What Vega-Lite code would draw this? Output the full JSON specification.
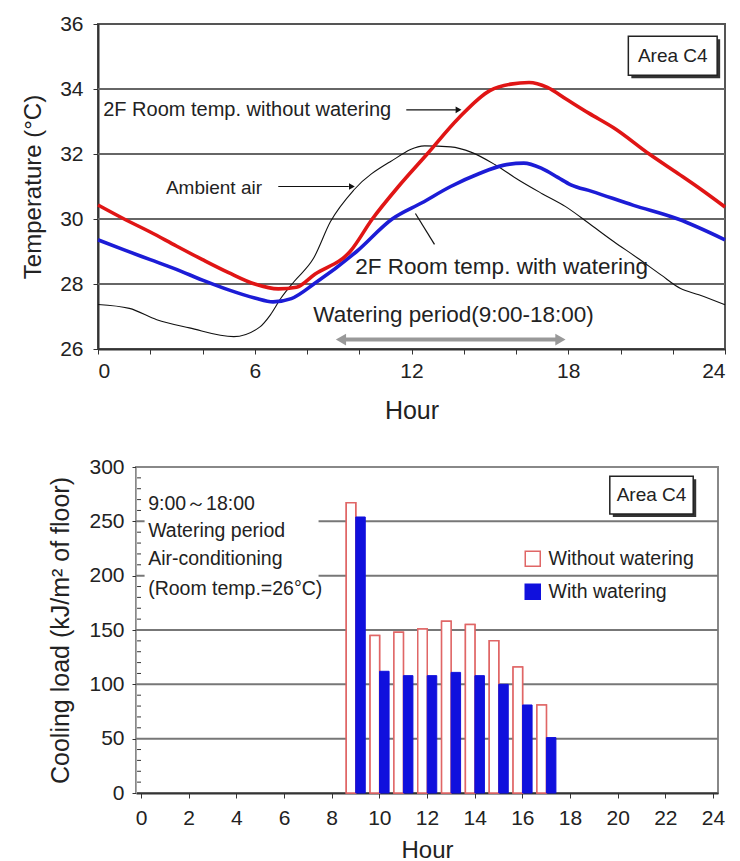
{
 "$schema": "https://vega.github.io/schema/vega-lite/v6.json",
 "background": "white",
 "padding": {"left": 19, "top": 12, "right": 0, "bottom": 0},
 "config": {
  "font": "Liberation Sans",
  "view": {"stroke": null},
  "axis": {"labelFont": "Liberation Sans", "titleFont": "Liberation Sans", "titleFontWeight": "normal", "labelColor": "#222", "titleColor": "#222", "domainColor": "#333", "tickColor": "#333", "gridColor": "#666", "labelFontSize": 21, "titleFontSize": 24, "labelOverlap": false},
  "text": {"font": "Liberation Sans", "color": "#222"}
 },
 "resolve": {"scale": {"fill": "independent", "stroke": "independent"}, "legend": {"fill": "independent", "stroke": "independent"}},
 "spacing": 31,
 "vconcat": [
  {"spacing": 0, "hconcat": [
   {"width": 1, "height": 1, "data": {"values": []}, "mark": "point"},
   {
    "width": 627, "height": 325,
    "view": {"stroke": "#555", "strokeWidth": 2},
    "data": {"values": [
       {"line": "Ambient air", "hour": 0, "temp": 27.37},
       {"line": "Ambient air", "hour": 1.2, "temp": 27.25},
       {"line": "Ambient air", "hour": 2.25, "temp": 26.9},
       {"line": "Ambient air", "hour": 3.5, "temp": 26.65},
       {"line": "Ambient air", "hour": 5.2, "temp": 26.38},
       {"line": "Ambient air", "hour": 6.2, "temp": 26.68},
       {"line": "Ambient air", "hour": 6.6, "temp": 27.05},
       {"line": "Ambient air", "hour": 7.0, "temp": 27.56},
       {"line": "Ambient air", "hour": 7.5, "temp": 28.07},
       {"line": "Ambient air", "hour": 8.25, "temp": 28.79},
       {"line": "Ambient air", "hour": 8.9, "temp": 29.92},
       {"line": "Ambient air", "hour": 9.8, "temp": 30.9},
       {"line": "Ambient air", "hour": 11.2, "temp": 31.77},
       {"line": "Ambient air", "hour": 12.5, "temp": 32.25},
       {"line": "Ambient air", "hour": 13.5, "temp": 32.22},
       {"line": "Ambient air", "hour": 14.3, "temp": 32.05},
       {"line": "Ambient air", "hour": 15.2, "temp": 31.67},
       {"line": "Ambient air", "hour": 16.1, "temp": 31.2},
       {"line": "Ambient air", "hour": 17.0, "temp": 30.78},
       {"line": "Ambient air", "hour": 17.9, "temp": 30.38},
       {"line": "Ambient air", "hour": 18.8, "temp": 29.86},
       {"line": "Ambient air", "hour": 19.75, "temp": 29.3},
       {"line": "Ambient air", "hour": 20.65, "temp": 28.8},
       {"line": "Ambient air", "hour": 21.55, "temp": 28.28},
       {"line": "Ambient air", "hour": 22.3, "temp": 27.86},
       {"line": "Ambient air", "hour": 23.0, "temp": 27.67},
       {"line": "Ambient air", "hour": 24, "temp": 27.36},
       {"line": "With watering", "hour": 0, "temp": 29.36},
       {"line": "With watering", "hour": 1, "temp": 29.05},
       {"line": "With watering", "hour": 2, "temp": 28.75},
       {"line": "With watering", "hour": 3, "temp": 28.45},
       {"line": "With watering", "hour": 4, "temp": 28.12},
       {"line": "With watering", "hour": 5, "temp": 27.82},
       {"line": "With watering", "hour": 6, "temp": 27.57},
       {"line": "With watering", "hour": 6.7, "temp": 27.45},
       {"line": "With watering", "hour": 7.4, "temp": 27.55},
       {"line": "With watering", "hour": 8.3, "temp": 28.02},
       {"line": "With watering", "hour": 9.9, "temp": 29.0},
       {"line": "With watering", "hour": 11.26, "temp": 30.0},
       {"line": "With watering", "hour": 12.4, "temp": 30.5},
       {"line": "With watering", "hour": 13.5, "temp": 31.0},
       {"line": "With watering", "hour": 14.6, "temp": 31.4},
       {"line": "With watering", "hour": 15.5, "temp": 31.65},
       {"line": "With watering", "hour": 16.3, "temp": 31.72},
       {"line": "With watering", "hour": 17.0, "temp": 31.55},
       {"line": "With watering", "hour": 17.6, "temp": 31.28},
       {"line": "With watering", "hour": 18.1, "temp": 31.05},
       {"line": "With watering", "hour": 18.9, "temp": 30.85},
       {"line": "With watering", "hour": 20.5, "temp": 30.42},
       {"line": "With watering", "hour": 22.2, "temp": 30.0},
       {"line": "With watering", "hour": 24, "temp": 29.36},
       {"line": "Without watering", "hour": 0, "temp": 30.43},
       {"line": "Without watering", "hour": 1, "temp": 30.0},
       {"line": "Without watering", "hour": 2, "temp": 29.6},
       {"line": "Without watering", "hour": 3, "temp": 29.17},
       {"line": "Without watering", "hour": 4, "temp": 28.75},
       {"line": "Without watering", "hour": 5, "temp": 28.35},
       {"line": "Without watering", "hour": 6, "temp": 28.0},
       {"line": "Without watering", "hour": 6.9, "temp": 27.85},
       {"line": "Without watering", "hour": 7.6, "temp": 27.9},
       {"line": "Without watering", "hour": 8.3, "temp": 28.3},
       {"line": "Without watering", "hour": 9.65, "temp": 29.0},
       {"line": "Without watering", "hour": 10.5, "temp": 30.0},
       {"line": "Without watering", "hour": 11.5, "temp": 31.0},
       {"line": "Without watering", "hour": 12.6, "temp": 32.0},
       {"line": "Without watering", "hour": 13.8, "temp": 33.1},
       {"line": "Without watering", "hour": 15.0, "temp": 33.95},
       {"line": "Without watering", "hour": 15.8, "temp": 34.15},
       {"line": "Without watering", "hour": 16.5, "temp": 34.2},
       {"line": "Without watering", "hour": 17.2, "temp": 34.05},
       {"line": "Without watering", "hour": 17.9, "temp": 33.7},
       {"line": "Without watering", "hour": 18.8, "temp": 33.25},
       {"line": "Without watering", "hour": 19.75, "temp": 32.8},
       {"line": "Without watering", "hour": 21.1, "temp": 32.0},
       {"line": "Without watering", "hour": 22.2, "temp": 31.4},
       {"line": "Without watering", "hour": 23.1, "temp": 30.9},
       {"line": "Without watering", "hour": 24, "temp": 30.37}
    ]},
    "layer": [
     {
      "data": {"values": [{"grid": 28}, {"grid": 30}, {"grid": 32}, {"grid": 34}]},
      "mark": {"type": "rule", "color": "#666", "strokeWidth": 2},
      "encoding": {"y": {"field": "grid", "type": "quantitative"}}
     },
     {
      "transform": [{"filter": "datum.line === 'Ambient air'"}],
      "mark": {"type": "line", "interpolate": "monotone", "color": "#111111", "strokeWidth": 1.1},
      "encoding": {
       "x": {"field": "hour", "type": "quantitative", "scale": {"domain": [0, 24], "nice": false},
        "axis": {"title": "Hour", "values": [0,1,2,3,4,5,6,7,8,9,10,11,12,13,14,15,16,17,18,19,20,21,22,23,24], "labelExpr": "datum.value % 6 === 0 ? datum.label : ''", "labelOverlap": false, "grid": false, "tickSize": 5, "labelPadding": 6, "titlePadding": 17, "domainWidth": 2, "titleFontSize": 25}},
       "y": {"field": "temp", "type": "quantitative", "scale": {"domain": [26, 36], "nice": false, "zero": false},
        "axis": {"title": "Temperature (°C)", "values": [26,27,28,29,30,31,32,33,34,35,36], "labelExpr": "datum.value % 2 === 0 ? datum.label : ''", "labelOverlap": false, "grid": false, "tickSize": 5, "labelPadding": 10, "titlePadding": 14, "domainWidth": 2}}
      }
     },
     {
      "transform": [{"filter": "datum.line === 'With watering'"}],
      "mark": {"type": "line", "interpolate": "monotone", "color": "#1c1cd6", "strokeWidth": 3.6},
      "encoding": {"x": {"field": "hour", "type": "quantitative"}, "y": {"field": "temp", "type": "quantitative"}}
     },
     {
      "transform": [{"filter": "datum.line === 'Without watering'"}],
      "mark": {"type": "line", "interpolate": "monotone", "color": "#e01515", "strokeWidth": 3.6},
      "encoding": {"x": {"field": "hour", "type": "quantitative"}, "y": {"field": "temp", "type": "quantitative"}}
     },
     {"data": {"values": [{}]}, "mark": {"type": "text", "text": "2F  Room temp. without watering", "align": "left", "baseline": "middle", "fontSize": 20}, "encoding": {"x": {"datum": 0.2}, "y": {"datum": 33.36}}},
     {"data": {"values": [{}]}, "mark": {"type": "rule", "color": "#111", "strokeWidth": 1.2}, "encoding": {"x": {"datum": 11.8}, "x2": {"datum": 13.7}, "y": {"datum": 33.36}}},
     {"data": {"values": [{}]}, "mark": {"type": "point", "shape": "triangle-right", "filled": true, "color": "#111", "size": 45, "opacity": 1}, "encoding": {"x": {"datum": 13.8}, "y": {"datum": 33.36}}},
     {"data": {"values": [{}]}, "mark": {"type": "text", "text": "Ambient air", "align": "left", "baseline": "middle", "fontSize": 19}, "encoding": {"x": {"datum": 2.6}, "y": {"datum": 30.95}}},
     {"data": {"values": [{}]}, "mark": {"type": "rule", "color": "#111", "strokeWidth": 1.2}, "encoding": {"x": {"datum": 6.9}, "x2": {"datum": 9.6}, "y": {"datum": 31.0}}},
     {"data": {"values": [{}]}, "mark": {"type": "point", "shape": "triangle-right", "filled": true, "color": "#111", "size": 45, "opacity": 1}, "encoding": {"x": {"datum": 9.72}, "y": {"datum": 31.0}}},
     {"data": {"values": [{}]}, "mark": {"type": "rule", "color": "#111", "strokeWidth": 1.2}, "encoding": {"x": {"datum": 12.15}, "x2": {"datum": 12.88}, "y": {"datum": 30.17}, "y2": {"datum": 29.22}}},
     {"data": {"values": [{}]}, "mark": {"type": "text", "text": "2F Room temp. with watering", "align": "left", "baseline": "middle", "fontSize": 22.5}, "encoding": {"x": {"datum": 9.85}, "y": {"datum": 28.53}}},
     {"data": {"values": [{}]}, "mark": {"type": "text", "text": "Watering period(9:00-18:00)", "align": "left", "baseline": "middle", "fontSize": 22.5}, "encoding": {"x": {"datum": 8.24}, "y": {"datum": 27.05}}},
     {"data": {"values": [{}]}, "mark": {"type": "rule", "color": "#999", "strokeWidth": 4}, "encoding": {"x": {"datum": 9.35}, "x2": {"datum": 17.65}, "y": {"datum": 26.29}}},
     {"data": {"values": [{}]}, "mark": {"type": "point", "shape": "triangle-left", "filled": true, "color": "#999", "size": 140, "opacity": 1}, "encoding": {"x": {"datum": 9.3}, "y": {"datum": 26.29}}},
     {"data": {"values": [{}]}, "mark": {"type": "point", "shape": "triangle-right", "filled": true, "color": "#999", "size": 140, "opacity": 1}, "encoding": {"x": {"datum": 17.7}, "y": {"datum": 26.29}}},
     {"data": {"values": [{}]}, "mark": {"type": "rect", "fill": "#333", "xOffset": 3, "x2Offset": 3, "yOffset": 3, "y2Offset": 3}, "encoding": {"x": {"datum": 20.3}, "x2": {"datum": 23.7}, "y": {"datum": 35.62}, "y2": {"datum": 34.42}}},
     {"data": {"values": [{}]}, "mark": {"type": "rect", "fill": "white", "stroke": "#222", "strokeWidth": 1.5}, "encoding": {"x": {"datum": 20.3}, "x2": {"datum": 23.7}, "y": {"datum": 35.62}, "y2": {"datum": 34.42}}},
     {"data": {"values": [{}]}, "mark": {"type": "text", "text": "Area C4", "align": "center", "baseline": "middle", "fontSize": 19}, "encoding": {"x": {"datum": 22.0}, "y": {"datum": 35.02}}}
    ]
   }
  ]},
  {"spacing": 0,
   "resolve": {"scale": {"fill": "independent", "stroke": "independent"}, "legend": {"fill": "independent", "stroke": "independent"}},
   "hconcat": [
   {"width": 28, "height": 1, "data": {"values": []}, "mark": "point"},
   {
    "width": 582, "height": 326,
    "view": {"stroke": "#888", "strokeWidth": 2},
    "data": {"values": [
     {"hour": 9, "series": "Without watering", "load": 267},
     {"hour": 10, "series": "Without watering", "load": 145},
     {"hour": 11, "series": "Without watering", "load": 148},
     {"hour": 12, "series": "Without watering", "load": 151},
     {"hour": 13, "series": "Without watering", "load": 158},
     {"hour": 14, "series": "Without watering", "load": 155},
     {"hour": 15, "series": "Without watering", "load": 140},
     {"hour": 16, "series": "Without watering", "load": 116},
     {"hour": 17, "series": "Without watering", "load": 81},
     {"hour": 9, "series": "With watering", "load": 254},
     {"hour": 10, "series": "With watering", "load": 112},
     {"hour": 11, "series": "With watering", "load": 108},
     {"hour": 12, "series": "With watering", "load": 108},
     {"hour": 13, "series": "With watering", "load": 111},
     {"hour": 14, "series": "With watering", "load": 108},
     {"hour": 15, "series": "With watering", "load": 100},
     {"hour": 16, "series": "With watering", "load": 81},
     {"hour": 17, "series": "With watering", "load": 51}
    ]},
    "layer": [
     {
      "transform": [{"filter": "datum.series === 'Without watering'"}],
      "mark": {"type": "bar", "width": 9.5, "xOffset": -4.5, "strokeWidth": 1.5},
      "encoding": {
       "x": {"field": "hour", "type": "quantitative", "scale": {"domain": [0, 24], "nice": false},
        "axis": {"title": "Hour", "values": [0,1,2,3,4,5,6,7,8,9,10,11,12,13,14,15,16,17,18,19,20,21,22,23,24], "labelExpr": "datum.value % 2 === 0 ? datum.label : ''", "labelOverlap": false, "grid": false, "tickSize": 5, "labelPadding": 9, "titlePadding": 10, "domainWidth": 2, "titleFontSize": 24}},
       "y": {"field": "load", "type": "quantitative", "scale": {"domain": [0, 300], "nice": false},
        "axis": {"title": "Cooling load (kJ/m² of floor)", "values": [0,50,100,150,200,250,300], "labelOverlap": false, "grid": false, "tickSize": 4, "labelPadding": 8, "titlePadding": 15, "domainColor": "#aaa", "domainWidth": 1, "titleFontSize": 25}},
       "fill": {"field": "series", "type": "nominal", "scale": {"domain": ["Without watering", "With watering"], "range": ["#ffffff", "#1010dd"]},
        "legend": {"title": null, "orient": "none", "legendX": 387, "legendY": 82, "symbolType": "square", "symbolSize": 225, "symbolStrokeWidth": 1.5, "labelFontSize": 19.5, "labelOffset": 6, "rowPadding": 11, "labelFont": "Liberation Sans", "labelColor": "#222", "padding": 0}},
       "stroke": {"field": "series", "type": "nominal", "scale": {"domain": ["Without watering", "With watering"], "range": ["#e06666", "#1010dd"]},
        "legend": {"title": null, "orient": "none", "legendX": 387, "legendY": 82, "symbolType": "square", "symbolSize": 225, "symbolStrokeWidth": 1.5, "labelFontSize": 19.5, "labelOffset": 6, "rowPadding": 11, "labelFont": "Liberation Sans", "labelColor": "#222", "padding": 0}}
      }
     },
     {
      "data": {"values": [{"grid": 50}, {"grid": 100}, {"grid": 150}, {"grid": 200}, {"grid": 250}]},
      "mark": {"type": "rule", "color": "#777", "strokeWidth": 2},
      "encoding": {"y": {"field": "grid", "type": "quantitative"}}
     },
     {
      "data": {"values": [{"minor": 10}, {"minor": 20}, {"minor": 30}, {"minor": 40}, {"minor": 60}, {"minor": 70}, {"minor": 80}, {"minor": 90}, {"minor": 110}, {"minor": 120}, {"minor": 130}, {"minor": 140}, {"minor": 160}, {"minor": 170}, {"minor": 180}, {"minor": 190}, {"minor": 210}, {"minor": 220}, {"minor": 230}, {"minor": 240}, {"minor": 260}, {"minor": 270}, {"minor": 280}, {"minor": 290}]},
      "mark": {"type": "rule", "color": "#333", "strokeWidth": 1},
      "encoding": {"y": {"field": "minor", "type": "quantitative"}, "x": {"datum": -0.165}, "x2": {"datum": 0}}
     },
     {
      "transform": [{"filter": "datum.series === 'Without watering'"}],
      "mark": {"type": "bar", "width": 9.5, "xOffset": -4.5, "strokeWidth": 1.5},
      "encoding": {
       "x": {"field": "hour", "type": "quantitative"},
       "y": {"field": "load", "type": "quantitative"},
       "fill": {"field": "series", "type": "nominal"},
       "stroke": {"field": "series", "type": "nominal"}
      }
     },
     {
      "transform": [{"filter": "datum.series === 'With watering'"}],
      "mark": {"type": "bar", "width": 9.5, "xOffset": 5, "strokeWidth": 1},
      "encoding": {
       "x": {"field": "hour", "type": "quantitative"},
       "y": {"field": "load", "type": "quantitative"},
       "fill": {"field": "series", "type": "nominal"},
       "stroke": {"field": "series", "type": "nominal"}
      }
     },
     {"data": {"values": [{}]}, "mark": {"type": "rect", "fill": "white"}, "encoding": {"x": {"datum": 0.15}, "x2": {"datum": 7.45}, "y": {"datum": 292}, "y2": {"datum": 178}}},
     {"data": {"values": [{}]}, "mark": {"type": "text", "text": "9:00～18:00", "align": "left", "baseline": "middle", "fontSize": 19.5}, "encoding": {"x": {"datum": 0.3}, "y": {"datum": 265.9}}},
     {"data": {"values": [{}]}, "mark": {"type": "text", "text": "Watering period", "align": "left", "baseline": "middle", "fontSize": 19.5}, "encoding": {"x": {"datum": 0.3}, "y": {"datum": 241.0}}},
     {"data": {"values": [{}]}, "mark": {"type": "text", "text": "Air-conditioning", "align": "left", "baseline": "middle", "fontSize": 19.5}, "encoding": {"x": {"datum": 0.3}, "y": {"datum": 215.3}}},
     {"data": {"values": [{}]}, "mark": {"type": "text", "text": "(Room temp.=26°C)", "align": "left", "baseline": "middle", "fontSize": 19.5}, "encoding": {"x": {"datum": 0.3}, "y": {"datum": 187.7}}},
     {"data": {"values": [{}]}, "mark": {"type": "rect", "fill": "#333", "xOffset": 3, "x2Offset": 3, "yOffset": 3, "y2Offset": 3}, "encoding": {"x": {"datum": 19.67}, "x2": {"datum": 23.17}, "y": {"datum": 291.6}, "y2": {"datum": 256.7}}},
     {"data": {"values": [{}]}, "mark": {"type": "rect", "fill": "white", "stroke": "#222", "strokeWidth": 1.5}, "encoding": {"x": {"datum": 19.67}, "x2": {"datum": 23.17}, "y": {"datum": 291.6}, "y2": {"datum": 256.7}}},
     {"data": {"values": [{}]}, "mark": {"type": "text", "text": "Area C4", "align": "center", "baseline": "middle", "fontSize": 19}, "encoding": {"x": {"datum": 21.42}, "y": {"datum": 274}}}
    ]
   }
  ]}
 ]
}
